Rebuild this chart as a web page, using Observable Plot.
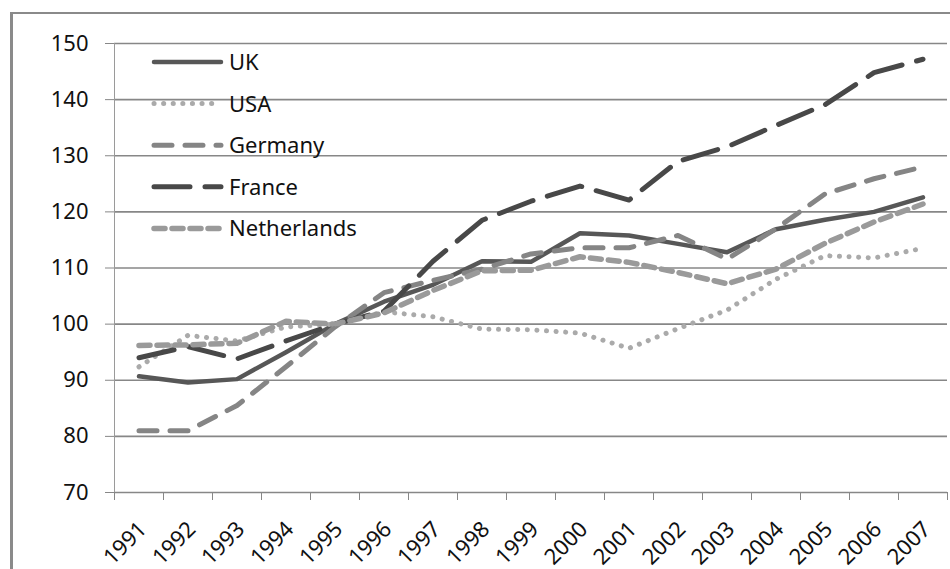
<!DOCTYPE html>
<html>
<head>
<meta charset="utf-8">
<script src="https://cdn.jsdelivr.net/npm/d3@7"></script>
<script src="https://cdn.jsdelivr.net/npm/@observablehq/plot@0.6"></script>
<style>
  html, body { margin: 0; padding: 0; background: #fff; }
  #wrap { position: relative; width: 950px; height: 569px; overflow: hidden; }
  #frame { position: absolute; left: 10px; top: 12px; width: 1000px; height: 700px;
           border-left: 3px solid #8a8a8a; border-top: 2px solid #8a8a8a; }
  #legend { position: absolute; left: 0; top: 0; }
  svg text { font-family: "Noto Sans", sans-serif; }
</style>
</head>
<body>
<div id="wrap"><div id="frame"></div></div>
<script>
// ---- data ----
const years = [1991, 1992, 1993, 1994, 1995, 1996, 1997, 1998, 1999, 2000, 2001, 2002, 2003, 2004, 2005, 2006, 2007];
const uk          = [90.7, 89.6, 90.2, 95.0, 100, 104.0, 107.0, 111.2, 111.1, 116.2, 115.8, 114.3, 112.8, 116.9, 118.6, 120.0, 122.6];
const usa         = [92.4, 98.0, 97.0, 99.5, 100, 102.2, 101.3, 99.1, 99.0, 98.4, 95.7, 99.2, 102.5, 108.0, 112.2, 111.8, 113.5];
const germany     = [81.0, 81.0, 85.5, 92.4, 99.5, 105.6, 107.8, 109.8, 112.5, 113.6, 113.6, 115.8, 111.6, 117.0, 123.2, 125.9, 128.0];
const france      = [94.0, 96.0, 93.8, 97.0, 100, 102.3, 111.2, 118.5, 121.9, 124.6, 122.1, 129.0, 131.6, 135.4, 139.1, 144.8, 147.2];
const netherlands = [96.2, 96.3, 96.6, 100.5, 100, 102.0, 106.0, 109.5, 109.6, 112.0, 111.0, 109.2, 107.2, 109.8, 114.4, 118.2, 121.4];
const yTicks = [70, 80, 90, 100, 110, 120, 130, 140, 150];

const series = [
  {name: "UK",          values: uk,          stroke: "#575757", width: 4.5, dash: null,       cap: "round"},
  {name: "USA",         values: usa,         stroke: "#aaaaaa", width: 5,   dash: "0.1 9.5",  cap: "round"},
  {name: "Germany",     values: germany,     stroke: "#858585", width: 5,   dash: "18 13",    cap: "round"},
  {name: "France",      values: france,      stroke: "#484848", width: 5,   dash: "36 15",    cap: "round"},
  {name: "Netherlands", values: netherlands, stroke: "#9a9a9a", width: 5.5, dash: "11 7",     cap: "round"}
];

const edges = [years[0] - 0.5, ...years.map(y => y + 0.5)];
const font = "\"Noto Sans\", sans-serif";
const grey = "#878787";

const lineMarks = series.map(s => Plot.line(
  years.map((yr, i) => ({year: yr, value: s.values[i]})),
  {x: "year", y: "value", stroke: s.stroke, strokeWidth: s.width,
   strokeDasharray: s.dash || undefined, strokeLinecap: s.cap, strokeLinejoin: "round"}
));

const chart = Plot.plot({
  width: 950, height: 569,
  marginLeft: 114, marginRight: 3, marginTop: 43, marginBottom: 77,
  x: {domain: [years[0] - 0.5, years[years.length - 1] + 0.5]},
  y: {domain: [70, 150]},
  style: {fontFamily: font, fontSize: "22px", color: "#111", background: "transparent", overflow: "visible"},
  marks: [
    Plot.gridY(yTicks, {stroke: grey, strokeOpacity: 1, strokeWidth: 1.6}),
    Plot.axisY({ticks: yTicks, tickSize: 9, tickPadding: 17, stroke: grey, label: null, fontSize: 22}),
    Plot.ruleX([years[0] - 0.5], {stroke: "#9a9a9a", strokeWidth: 1}),
    Plot.axisX({ticks: edges, tickSize: 8, tickFormat: () => "", stroke: grey, label: null}),
    Plot.text(years, {x: d => d, y: yTicks[0], text: d => String(d), rotate: -45,
      textAnchor: "end", lineAnchor: "middle", dx: 4, dy: 33, fontSize: 22, fill: "#111"}),
    ...lineMarks
  ]
});
const wrap = document.getElementById("wrap");
chart.style.position = "absolute";
chart.style.left = "0px";
chart.style.top = "0px";
wrap.appendChild(chart);

// ---- legend (inside plot area, top-left) ----
const leg = d3.select(wrap).append("svg").attr("id", "legend")
  .attr("width", 950).attr("height", 569);
series.forEach((s, i) => {
  const cy = 62 + i * 41.6;
  leg.append("line").attr("x1", 154).attr("x2", 221).attr("y1", cy).attr("y2", cy)
    .attr("stroke", s.stroke).attr("stroke-width", s.width)
    .attr("stroke-linecap", s.cap)
    .attr("stroke-dasharray", s.dash);
  leg.append("text").attr("x", 229).attr("y", cy).attr("dy", "0.36em")
    .attr("font-size", 22).attr("fill", "#111").text(s.name);
});
</script>
</body>
</html>
